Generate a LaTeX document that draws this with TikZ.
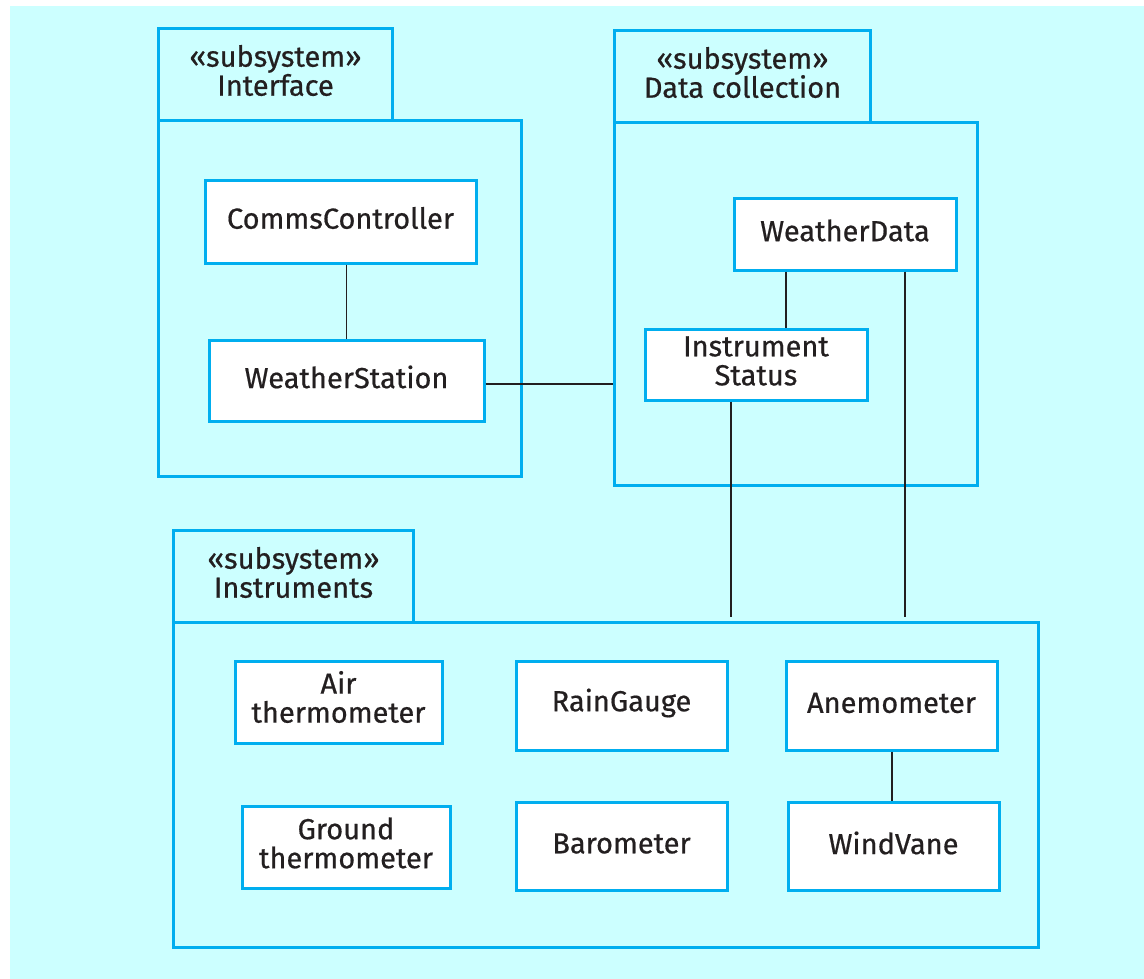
\documentclass[tikz,border=0pt]{standalone}
\usepackage{fontspec}
\setmainfont{Fira Sans}[FakeBold=0.6]
\definecolor{bgc}{HTML}{CCFFFF}
\definecolor{pk}{HTML}{00AEEF}
\definecolor{tx}{HTML}{231F20}
\tikzset{
  pkgtab/.style={draw=pk, line width=3pt, fill=bgc, anchor=north west, inner sep=0pt},
  pkgbody/.style={draw=pk, line width=3pt, fill=bgc, anchor=north west, inner sep=0pt},
  cls/.style={draw=pk, line width=3pt, fill=white, inner sep=0pt},
  txt/.style={inner sep=0pt, align=center, text=tx, font=\fontsize{29}{29}\selectfont},
  link/.style={draw=tx, line width=1.4pt}
}
\begin{document}
\begin{tikzpicture}[x=1pt,y=-1pt]
\useasboundingbox (0,0) rectangle (1144,979);
\fill[bgc] (10,6) rectangle (1144,979);
% Interface package
\node[pkgbody, minimum width=363, minimum height=356] (ifb) at (157,119) {};
\node[pkgtab, minimum width=234, minimum height=92] (ift) at (157,27) {};
\node[txt] (ift-t) at ([yshift=4pt]ift.center) {«subsystem»\\Interface};
% Data collection package
\node[pkgbody, minimum width=363, minimum height=363] (dcb) at (613,121) {};
\node[pkgtab, minimum width=256, minimum height=92] (dct) at (613,29) {};
\node[txt] (dct-t) at ([yshift=4pt]dct.center) {«subsystem»\\Data collection};
% Instruments package
\node[pkgbody, minimum width=865, minimum height=325] (inb) at (172,621) {};
\node[pkgtab, minimum width=240, minimum height=92] (int) at (172,529) {};
\node[txt] (int-t) at ([yshift=4pt]int.center) {«subsystem»\\Instruments};
% classes
\node[cls, minimum width=271, minimum height=82] (cc) at (340.5,222) {};
\node[txt] (cc-t) at ([yshift=4pt]cc.center) {CommsController};
\node[cls, minimum width=275, minimum height=81] (ws) at (346.5,380.5) {};
\node[txt] (ws-t) at ([yshift=3.5pt]ws.center) {WeatherStation};
\node[cls, minimum width=222, minimum height=71] (wd) at (845,234.5) {};
\node[txt] (wd-t) at ([yshift=4pt]wd.center) {WeatherData};
\node[cls, minimum width=222, minimum height=71] (is) at (756,364.5) {};
\node[txt] (is-t) at ([yshift=3.5pt]is.center) {Instrument\\Status};
\node[cls, minimum width=207, minimum height=82] (at) at (338.5,702) {};
\node[txt] (at-t) at ([yshift=5pt]at.center) {Air\\thermometer};
\node[cls, minimum width=211, minimum height=89] (rg) at (621.5,705.5) {};
\node[txt] (rg-t) at ([yshift=2.5pt]rg.center) {RainGauge};
\node[cls, minimum width=211, minimum height=89] (an) at (891.5,705.5) {};
\node[txt] (an-t) at ([yshift=2.5pt]an.center) {Anemometer};
\node[cls, minimum width=208, minimum height=82] (gt) at (346,847) {};
\node[txt] (gt-t) at ([yshift=4pt]gt.center) {Ground\\thermometer};
\node[cls, minimum width=211, minimum height=88] (ba) at (621.5,846) {};
\node[txt] (ba-t) at ([yshift=2.5pt]ba.center) {Barometer};
\node[cls, minimum width=211, minimum height=88] (wv) at (893.5,846) {};
\node[txt] (wv-t) at ([yshift=3pt]wv.center) {WindVane};
% connectors
\coordinate (isx) at (731,0);
\coordinate (wdx) at (905,0);
\coordinate (wdy) at (786,0);
\coordinate (anx) at (892,0);
\coordinate (wsy) at (0,384);
\draw[link] (cc.south -| ws.north) -- (ws.north);
\draw[link] (ws.east |- wsy) -- (dcb.west |- wsy);
\draw[link] (wd.south -| wdy) -- (is.north -| wdy);
\draw[link] (is.south -| isx) -- ([yshift=4pt]inb.north -| isx);
\draw[link] (wd.south -| wdx) -- ([yshift=4pt]inb.north -| wdx);
\draw[link] (an.south -| anx) -- (wv.north -| anx);
\end{tikzpicture}
\end{document}
